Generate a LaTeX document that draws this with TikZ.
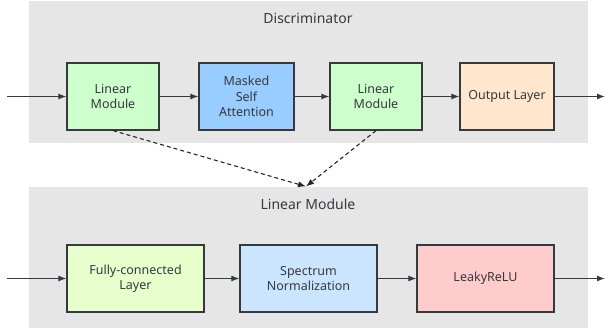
\documentclass[tikz,border=0pt]{standalone}
\usepackage{fontspec}
\setmainfont{Noto Sans}
\usepackage{tikz}
\usetikzlibrary{positioning}
\usetikzlibrary{arrows.meta}
\definecolor{panelgray}{RGB}{230,230,230}
\definecolor{edgegray}{RGB}{54,57,61}
\definecolor{linegreen}{RGB}{204,255,204}
\definecolor{attnblue}{RGB}{153,204,255}
\definecolor{outorange}{RGB}{255,230,204}
\definecolor{fcgreen}{RGB}{230,255,204}
\definecolor{snblue}{RGB}{204,229,255}
\definecolor{relured}{RGB}{255,204,204}

\begin{document}
\begin{tikzpicture}[x=1pt,y=-1pt]
	\useasboundingbox (0,0) rectangle (605,331);
	% panels
	\fill[panelgray] (29,1) rectangle (588,143);
	\fill[panelgray] (29,187) rectangle (588,328);
	\node[text=edgegray,font=\fontsize{14}{16}\selectfont] (T1) at (308,18) {Discriminator};
	\node[text=edgegray,font=\fontsize{14}{16}\selectfont] (T2) at (308,204) {Linear Module};

	\begin{scope}[every node/.style={draw=edgegray,rectangle,line width=1.2pt,minimum height=67pt,
	              align=center,text=edgegray,font=\fontsize{12.5}{15.5}\selectfont}]
	    \node[fill=linegreen,minimum width=92pt] (A) at (113,96.5) {Linear\\Module};
	    \node[fill=attnblue,minimum width=95pt] (B) at (246.5,96.5) {Masked\\Self\\Attention};
	    \node[fill=linegreen,minimum width=92pt] (C) at (376,96.5) {Linear\\Module};
	    \node[fill=outorange,minimum width=94pt] (D) at (507,96.5) {Output Layer};
	    \node[fill=fcgreen,minimum width=137pt] (F) at (135.5,278.5) {Fully-connected\\Layer};
	    \node[fill=snblue,minimum width=137pt] (G) at (308.5,278.5) {Spectrum\\Normalization};
	    \node[fill=relured,minimum width=137pt] (H) at (485.5,278.5) {LeakyReLU};
	\end{scope}

	\coordinate (in1) at (7,96.5);
	\coordinate (out1) at (605,96.5);
	\coordinate (in2) at (7,278.5);
	\coordinate (out2) at (605,278.5);
	\coordinate (M) at (306,186.5);

	\begin{scope}[>={Latex[length=8pt,width=6pt]},
	              every edge/.style={draw=edgegray,line width=1.1pt}]
    	\path [->] (in1) edge (A);
    	\path [->] (A) edge (B);
    	\path [->] (B) edge (C);
    	\path [->] (C) edge (D);
    	\path [->] (D) edge (out1);
    	\path [->] (in2) edge (F);
    	\path [->] (F) edge (G);
    	\path [->] (G) edge (H);
    	\path [->] (H) edge (out2);
    	\path [->] (A.south) edge [dash pattern=on 4pt off 3pt,draw=black!85] (M);
    	\path [->] (C.south) edge [dash pattern=on 4pt off 3pt,draw=black!85] (M);
	\end{scope}
\end{tikzpicture}
\end{document}
